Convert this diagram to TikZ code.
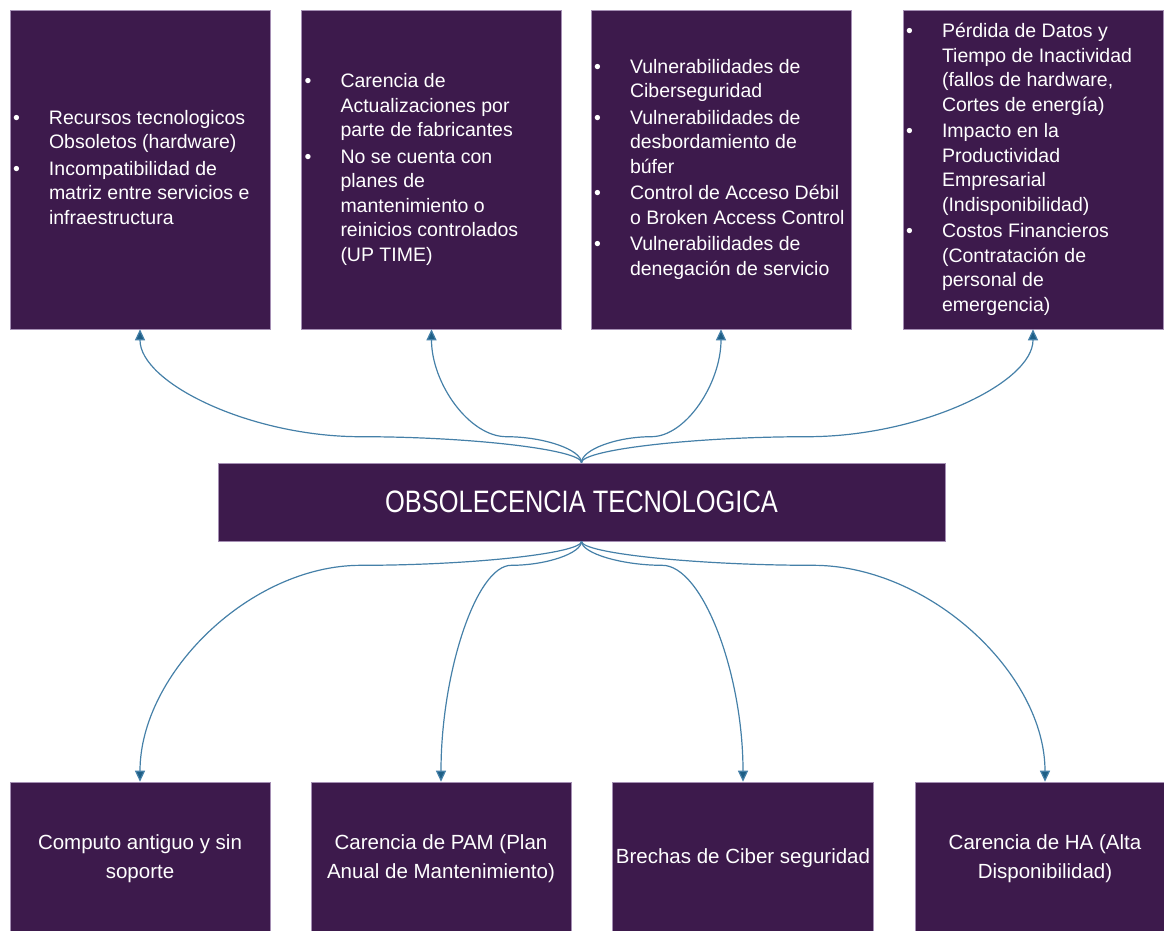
\documentclass[tikz,border=0pt]{standalone}
\usepackage{fontspec}
\setmainfont{Liberation Sans}
\newfontfamily\headfont[FakeStretch=0.82]{Liberation Sans}
\usetikzlibrary{calc}
\usetikzlibrary{arrows.meta}

\definecolor{boxpurple}{HTML}{3D1A4C}
\definecolor{boxedge}{HTML}{A58FB4}
\definecolor{linkblue}{HTML}{4580A8}
\definecolor{tipblue}{HTML}{1E5F86}

\tikzset{
    topbox/.style={rectangle, fill=boxpurple, draw=boxedge, line width=0.6pt,
        text=white, minimum width=260pt, minimum height=319pt,
        inner xsep=2pt, inner ysep=0pt, font=\fontsize{19.5}{24.5}\selectfont},
    lowbox/.style={rectangle, fill=boxpurple, draw=boxedge, line width=0.6pt,
        text=white, minimum width=260pt, minimum height=153pt,
        align=center, font=\fontsize{20.5}{29}\selectfont},
    hubbox/.style={rectangle, fill=boxpurple, draw=boxedge, line width=0.6pt,
        text=white, minimum width=727pt, minimum height=78pt,
        font=\headfont\fontsize{31}{36}\selectfont},
    link/.style={draw=linkblue, line width=1.2pt,
        -{Triangle[length=11pt,width=10pt,fill=tipblue]}}
}

\begin{document}
\begin{tikzpicture}[x=1pt, y=-1pt]

    \useasboundingbox (0,0) rectangle (1164,930);

    % causas / efectos (arriba)
    \node[topbox] (t1) at (140,169.5) {%
        \begin{tabular}{@{}p{36pt}@{}p{218pt}@{}}
        \textbullet & Recursos tecnologicos\newline Obsoletos (hardware)\\[2pt]
        \textbullet & Incompatibilidad de\newline matriz entre servicios e\newline infraestructura
        \end{tabular}};
    \node[topbox] (t2) at (431.5,169.5) {%
        \begin{tabular}{@{}p{36pt}@{}p{218pt}@{}}
        \textbullet & Carencia de\newline Actualizaciones por\newline parte de fabricantes\\[2pt]
        \textbullet & No se cuenta con\newline planes de\newline mantenimiento o\newline reinicios controlados\newline (UP TIME)
        \end{tabular}};
    \node[topbox] (t3) at (721,169.5) {%
        \begin{tabular}{@{}p{36pt}@{}p{218pt}@{}}
        \textbullet & Vulnerabilidades de\newline Ciberseguridad\\[2pt]
        \textbullet & Vulnerabilidades de\newline desbordamiento de\newline búfer\\[2pt]
        \textbullet & Control de Acceso Débil\newline o Broken Access Control\\[2pt]
        \textbullet & Vulnerabilidades de\newline denegación de servicio
        \end{tabular}};
    \node[topbox] (t4) at (1033,169.5) {%
        \begin{tabular}{@{}p{36pt}@{}p{218pt}@{}}
        \textbullet & Pérdida de Datos y\newline Tiempo de Inactividad\newline (fallos de hardware,\newline Cortes de energía)\\[2pt]
        \textbullet & Impacto en la\newline Productividad\newline Empresarial\newline (Indisponibilidad)\\[2pt]
        \textbullet & Costos Financieros\newline (Contratación de\newline personal de\newline emergencia)
        \end{tabular}};

    % problema central
    \node[hubbox] (hub) at (581.5,502) {OBSOLECENCIA TECNOLOGICA};

    % causas (abajo)
    \node[lowbox] (b1) at (140,858.5) {Computo antiguo y sin\\soporte};
    \node[lowbox] (b2) at (441,858.5) {Carencia de PAM (Plan\\Anual de Mantenimiento)};
    \node[lowbox] (b3) at (743,858.5) {Brechas de Ciber seguridad};
    \node[lowbox] (b4) at (1045,858.5) {Carencia de HA (Alta\\Disponibilidad)};

    \foreach \t in {t1,t2,t3,t4} {
        \draw[link] let \p1=(hub.north), \p2=(\t.south) in
            (\p1) .. controls (\x1,\y1+13pt) and ({(3*\x1+\x2)/4},\y1+26pt) .. ({(\x1+\x2)/2},\y1+26pt)
            .. controls ({(\x1+3*\x2)/4},\y1+26pt) and (\x2,{(\y1+26pt+\y2)/2}) .. (\p2);
    }

    \foreach \b in {b1,b2,b3,b4} {
        \draw[link] let \p1=(hub.south), \p2=(\b.north) in
            (\p1) .. controls (\x1,\y1-12pt) and ({(3*\x1+\x2)/4},\y1-24pt) .. ({(\x1+\x2)/2},\y1-24pt)
            .. controls ({(\x1+3*\x2)/4},\y1-24pt) and (\x2,{(\y1-24pt+\y2)/2}) .. (\p2);
    }
\end{tikzpicture}
\end{document}
